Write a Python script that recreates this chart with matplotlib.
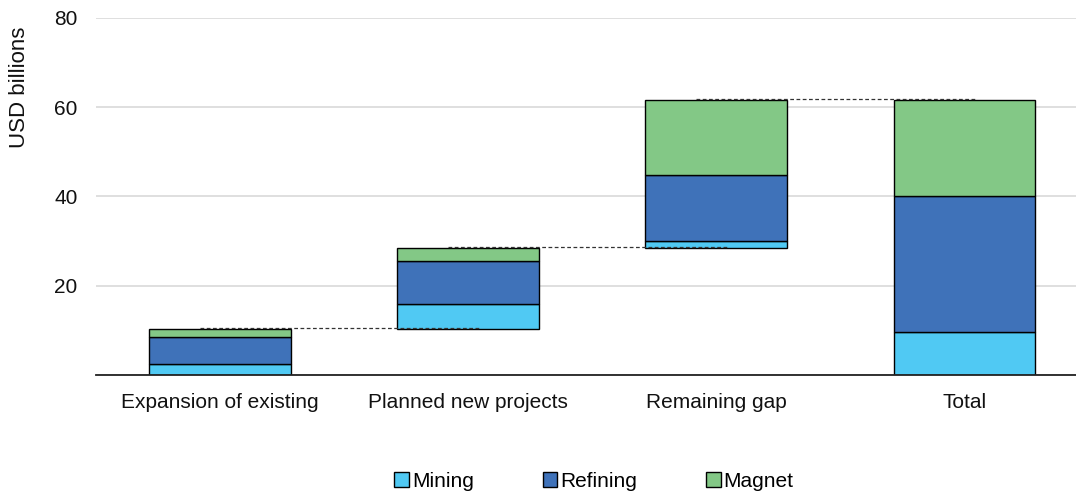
import matplotlib.pyplot as plt
from matplotlib.patches import Patch

plt.rcParams['font.family'] = ['Liberation Sans', 'DejaVu Sans']

categories = ['Expansion of existing', 'Planned new projects', 'Remaining gap', 'Total']
mining = [2.5, 5.6, 1.6]
refining = [6.0, 9.7, 14.6]
magnet = [1.8, 2.9, 17.0]

colors = {'Mining': '#50c9f3', 'Refining': '#3f72b9', 'Magnet': '#83c886'}

# waterfall bases for the first three steps, then the total
steps = len(mining)
bases = []
run = 0
for i in range(steps):
    bases.append(run)
    run += mining[i] + refining[i] + magnet[i]
bases.append(0)
mining_all = mining + [sum(mining)]
refining_all = refining + [sum(refining)]
magnet_all = magnet + [sum(magnet)]

fig = plt.figure(figsize=(10.76, 4.96), dpi=100)
ax = fig.add_axes([0.089, 0.244, 0.911, 0.72])

x = list(range(len(categories)))
w = 0.57
b1 = [bases[i] for i in x]
ax.bar(x, mining_all, w, bottom=b1, color=colors['Mining'], edgecolor='black', linewidth=1, zorder=3)
b2 = [b1[i] + mining_all[i] for i in x]
ax.bar(x, refining_all, w, bottom=b2, color=colors['Refining'], edgecolor='black', linewidth=1, zorder=3)
b3 = [b2[i] + refining_all[i] for i in x]
ax.bar(x, magnet_all, w, bottom=b3, color=colors['Magnet'], edgecolor='black', linewidth=1, zorder=3)

# dashed connectors between the tops
tops = [b3[i] + magnet_all[i] for i in x]
for i in range(len(categories) - 1):
    ax.plot([i - 0.08, i + 1 + 0.05], [tops[i] + 0.15, tops[i] + 0.15], color='#333333',
            linestyle=(0, (3, 2)), linewidth=0.9, zorder=4)

ax.set_xlim(-0.5, 3.45)
ax.set_ylim(0, 80)
ax.set_yticks([0, 20, 40, 60, 80])
ax.set_yticklabels(['', '20', '40', '60', '80'])
ax.set_xticks(x)
ax.set_xticklabels(categories)
ax.tick_params(axis='both', length=0, labelsize=15, colors='#111111')
ax.tick_params(axis='y', pad=13)
ax.tick_params(axis='x', pad=13)
ax.grid(axis='y', color='#d9d9d9', linewidth=1.2, zorder=0)
for s in ['top', 'right', 'left']:
    ax.spines[s].set_visible(False)
ax.spines['bottom'].set_color('#222222')
ax.spines['bottom'].set_linewidth(1.3)
ax.spines['bottom'].set_zorder(5)

fig.text(0.018, 0.946, 'USD billions', rotation=90, va='top', ha='center', fontsize=16, color='#111111')

handles = [Patch(facecolor=colors[k], edgecolor='black', label=k) for k in ['Mining', 'Refining', 'Magnet']]
fig.legend(handles=handles, loc='center', bbox_to_anchor=(0.552, 0.03), ncol=3, frameon=False,
           fontsize=15, handlelength=0.7, handleheight=0.7, handletextpad=0.15, columnspacing=3.3)

fig.savefig('out.png', dpi=100)
